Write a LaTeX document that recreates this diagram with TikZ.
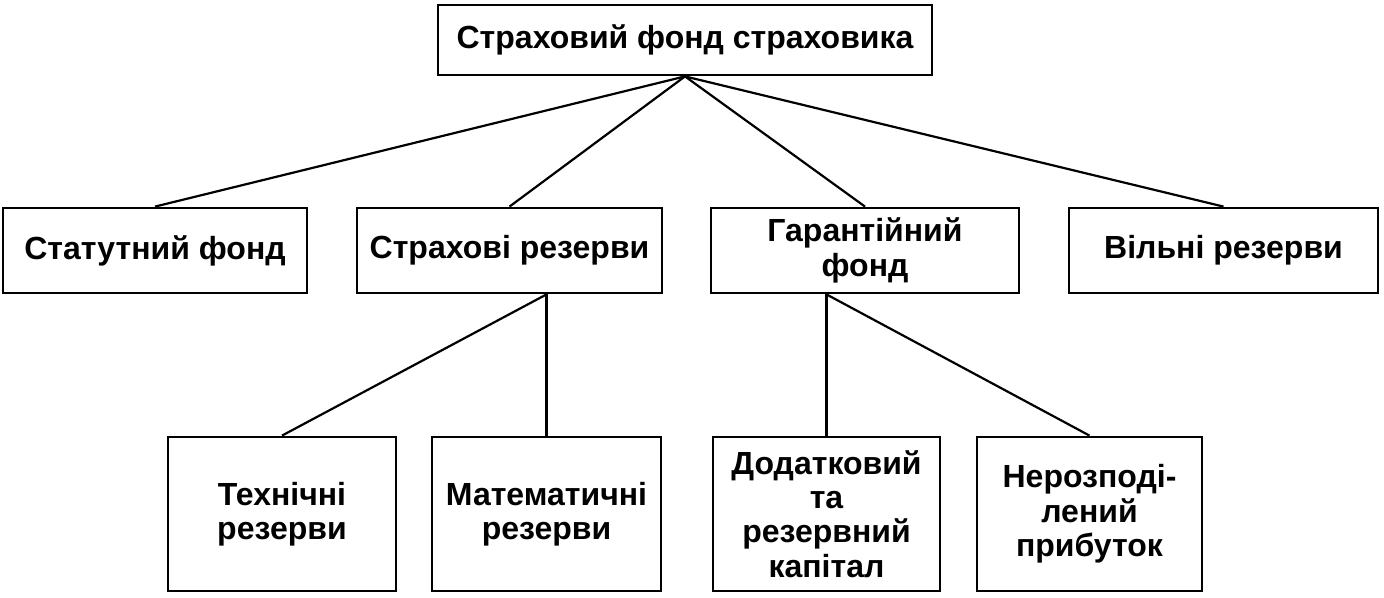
\documentclass[tikz,border=0pt]{standalone}
\usepackage{fontspec}
\setmainfont{Liberation Sans}
\tikzset{
  fundbox/.style={draw, line width=1.4pt, inner sep=0pt, align=center,
    font=\bfseries\fontsize{16}{17.2}\selectfont},
  link/.style={line width=1.1pt}
}
\begin{document}
\begin{tikzpicture}[x=0.5pt, y=-0.5pt]
        \useasboundingbox (0, 0) rectangle (1384, 598);
        % nodes
        \node[fundbox, minimum width=247pt, minimum height=35pt] (root) at (685, 40) {Страховий фонд страховика};
        \node[fundbox, minimum width=152pt, minimum height=42.5pt] (statut) at (155, 250.5) {Статутний фонд};
        \node[fundbox, minimum width=152.5pt, minimum height=42.5pt] (strah) at (509.5, 250.5) {Страхові резерви};
        \node[fundbox, minimum width=154pt, minimum height=42.5pt] (garant) at (865, 250.5) {Гарантійний\\фонд};
        \node[fundbox, minimum width=154.5pt, minimum height=42.5pt] (vilni) at (1223.5, 250.5) {Вільні резерви};
        \node[fundbox, minimum width=114pt, minimum height=77pt] (tech) at (282, 514) {Технічні\\резерви};
        \node[fundbox, minimum width=114.5pt, minimum height=77pt] (mat) at (546.5, 514) {Математичні\\резерви};
        \node[fundbox, minimum width=113.5pt, minimum height=77pt] (dod) at (826.5, 514) {Додатковий\\та\\резервний\\капітал};
        \node[fundbox, minimum width=112.5pt, minimum height=77pt] (neroz) at (1089.5, 514) {Нерозподі-\\лений\\прибуток};
        % lines
        \draw[link] (root.south) -- (statut.north);
        \draw[link] (root.south) -- (strah.north);
        \draw[link] (root.south) -- (garant.north);
        \draw[link] (root.south) -- (vilni.north);
        \coordinate (strahfoot) at (mat.north |- strah.south);
        \draw[link] (strahfoot) -- (tech.north);
        \draw[link] (strahfoot) -- (mat.north);
        \coordinate (garantfoot) at (dod.north |- garant.south);
        \draw[link] (garantfoot) -- (dod.north);
        \draw[link] (garantfoot) -- (neroz.north);
\end{tikzpicture}
\end{document}
